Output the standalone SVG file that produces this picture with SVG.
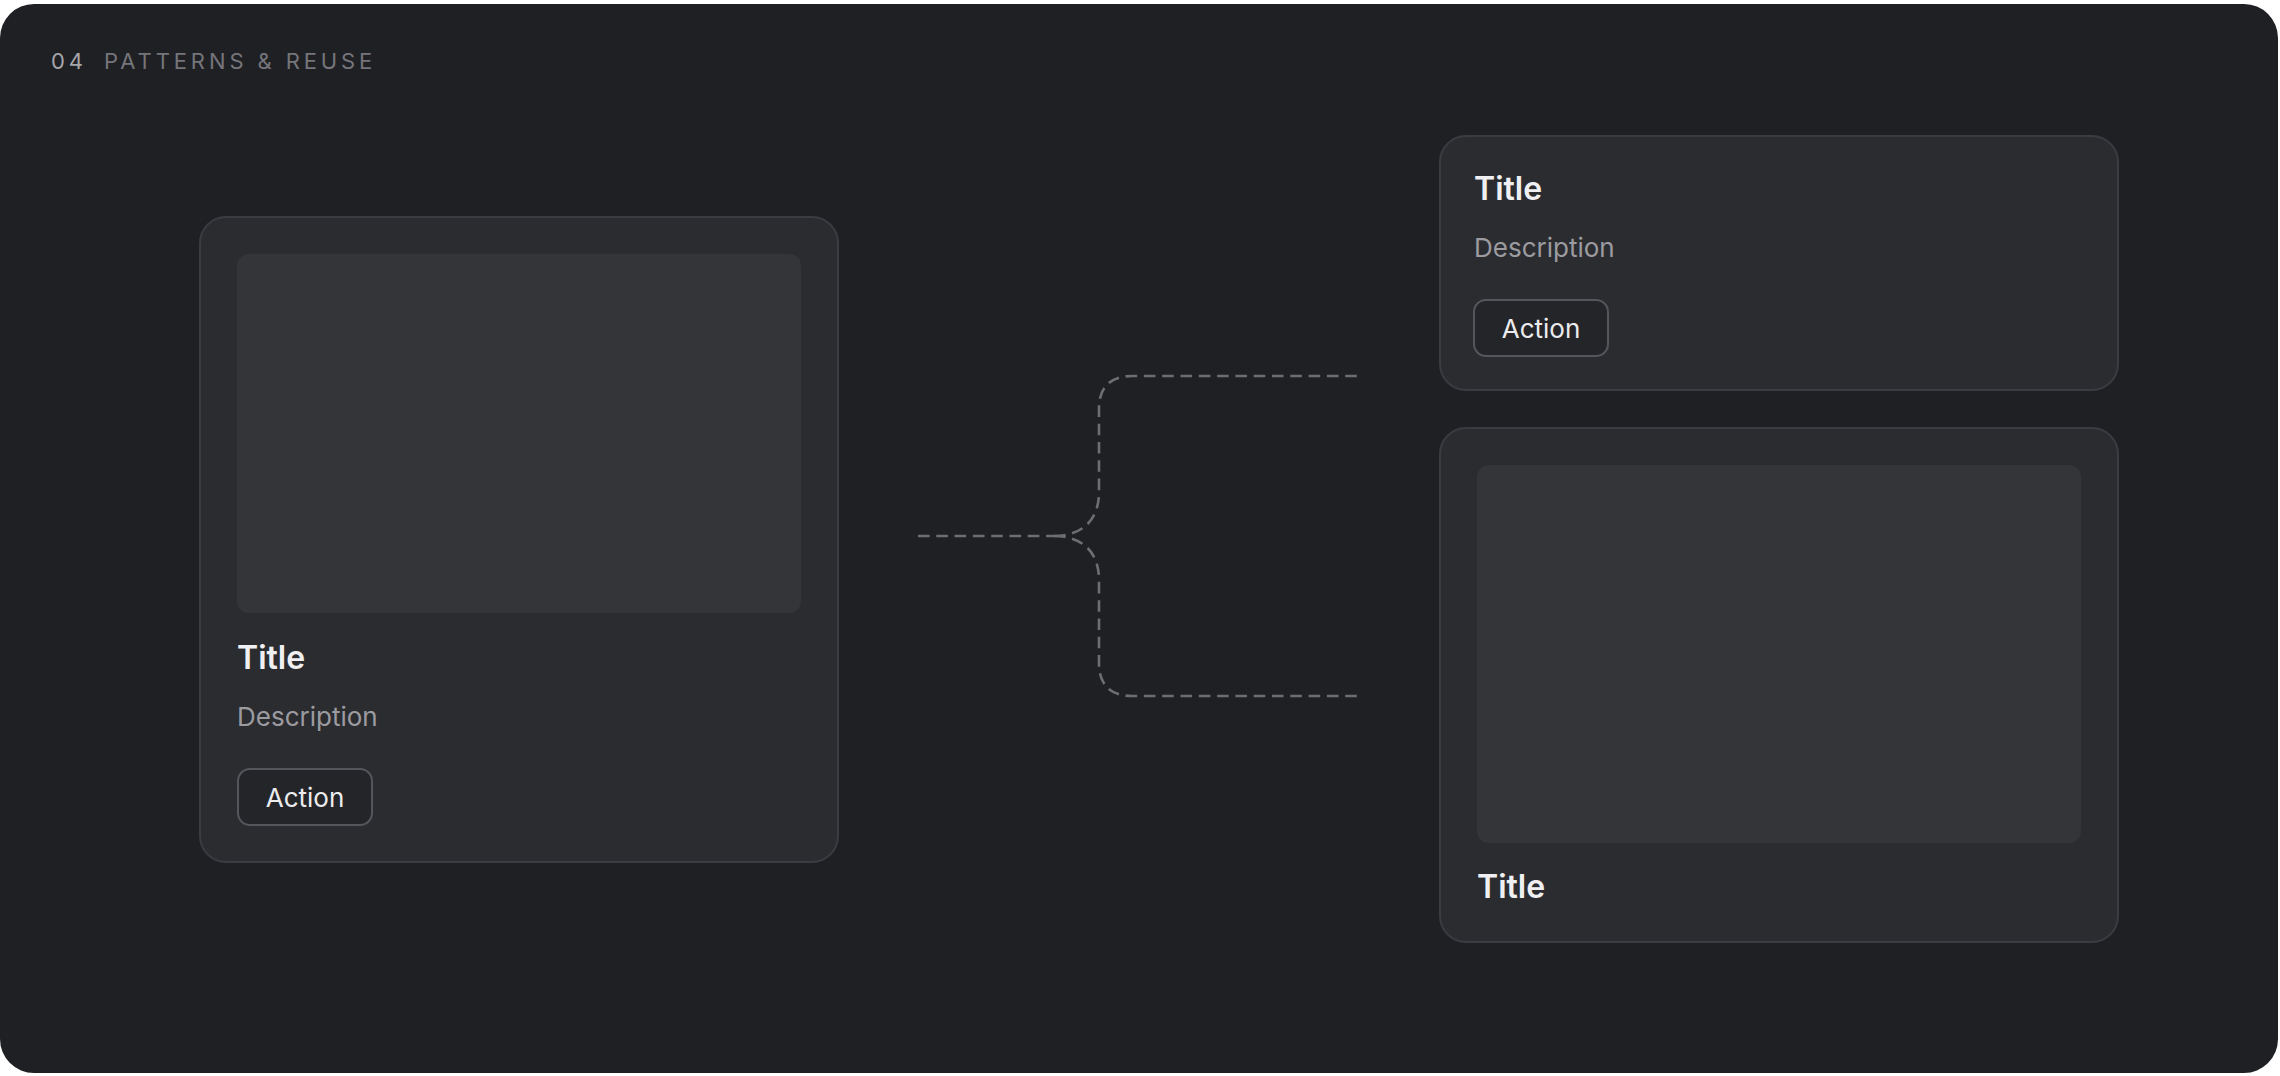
<svg xmlns="http://www.w3.org/2000/svg" width="2280" height="1076" viewBox="0 0 2280 1076">
  <style>
    .card { fill: #2b2c30; stroke: #3b3c41; stroke-width: 2; }
    .ph { fill: #343539; }
    .title { font-family: Inter, "Liberation Sans", sans-serif; font-weight: 600; font-size: 32px; fill: #f0f0f2; }
    .desc { font-family: Inter, "Liberation Sans", sans-serif; font-weight: 400; font-size: 26px; fill: #9b9ba0; }
    .btn { fill: #242529; stroke: #55565b; stroke-width: 2; }
    .btntext { font-family: Inter, "Liberation Sans", sans-serif; font-weight: 400; font-size: 26px; fill: #ececee; text-anchor: middle; }
    .conn { fill: none; stroke: #6d6d72; stroke-width: 2.6; stroke-dasharray: 11.6 6.7; }
    .hdr { font-family: Inter, "Liberation Sans", sans-serif; font-size: 22px; letter-spacing: 3.9px; }
  </style>
  <rect x="0" y="0" width="2280" height="1076" fill="#ffffff"/>
  <rect x="0" y="4" width="2278" height="1069" rx="34" fill="#1f2024"/>
  <g id="header">
    <text x="51" y="69" class="hdr" fill="#a6a6ab">04</text>
    <text x="104" y="69" class="hdr" fill="#75757b">PATTERNS &amp; REUSE</text>
  </g>
  <g id="connectors">
    <path class="conn" d="M918 536 H1054"/>
    <path class="conn" d="M1054 536 C1080 536 1099 522 1099 492 V408 C1099 388 1110 376 1132 376 H1358"/>
    <path class="conn" d="M1054 536 C1080 536 1099 550 1099 580 V664 C1099 684 1110 696 1132 696 H1358"/>
  </g>
  <g id="card-left">
    <rect class="card" x="200" y="217" width="638" height="645" rx="26"/>
    <rect class="ph" x="237" y="254" width="564" height="359" rx="12"/>
    <text class="title" x="237" y="669">Title</text>
    <text class="desc" x="237" y="726">Description</text>
    <rect class="btn" x="238" y="769" width="134" height="56" rx="12"/>
    <text class="btntext" x="305" y="807">Action</text>
  </g>
  <g id="card-top-right">
    <rect class="card" x="1440" y="136" width="678" height="254" rx="26"/>
    <text class="title" x="1474" y="200">Title</text>
    <text class="desc" x="1474" y="257">Description</text>
    <rect class="btn" x="1474" y="300" width="134" height="56" rx="12"/>
    <text class="btntext" x="1541" y="338">Action</text>
  </g>
  <g id="card-bottom-right">
    <rect class="card" x="1440" y="428" width="678" height="514" rx="26"/>
    <rect class="ph" x="1477" y="465" width="604" height="378" rx="12"/>
    <text class="title" x="1477" y="898">Title</text>
  </g>
</svg>
